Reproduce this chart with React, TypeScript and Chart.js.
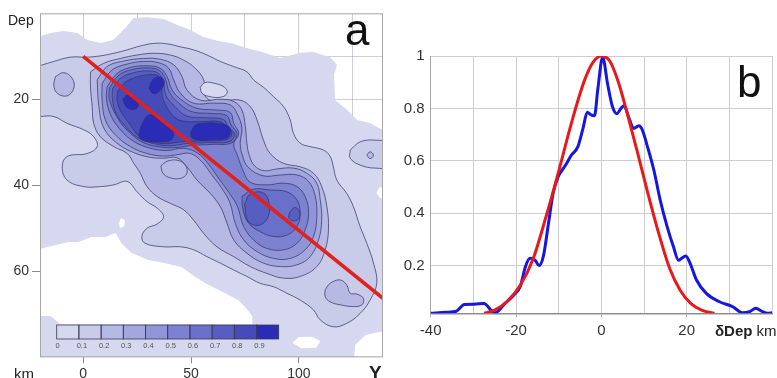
import React, { useEffect, useRef } from 'react';
import { Chart, registerables } from 'chart.js';

Chart.register(...registerables);

type P = [number, number];

const FONT = "Arial, 'Liberation Sans', Helvetica, sans-serif";

// ---------------- Panel b : profile across the fault ----------------
const bXTicks = [-40, -30, -20, -10, 0, 10, 20, 30, 40];
const bXLabels = [-40, -20, 0, 20];
const bYTicks = [0.2, 0.4, 0.6, 0.8, 1];

const profileBlue: P[] = [
  [-40, 0.018], [-36.4, 0.022], [-34, 0.026], [-32.1, 0.052], [-29.8, 0.053], [-27.5, 0.055],
  [-25.6, 0.026], [-24.8, 0.02], [-22.9, 0.05], [-20.5, 0.088], [-19, 0.12], [-17.8, 0.196],
  [-16.7, 0.228], [-15.5, 0.22], [-14.6, 0.2], [-13.6, 0.235], [-12.4, 0.36], [-11.3, 0.476],
  [-10.1, 0.54], [-8.6, 0.578], [-7, 0.622], [-5.5, 0.654], [-4.3, 0.724], [-3.3, 0.785],
  [-2.4, 0.775], [-1.6, 0.772], [-0.85, 0.87], [0.3, 0.995], [1.5, 0.89], [2.6, 0.807],
  [3.6, 0.78], [4.6, 0.8], [5.3, 0.81], [6.5, 0.762], [7.6, 0.724], [8.8, 0.734], [9.6, 0.718],
  [10.7, 0.66], [12.3, 0.565], [13.8, 0.45], [15.4, 0.35], [16.9, 0.272], [18.1, 0.22],
  [18.8, 0.228], [19.8, 0.237], [20.8, 0.209], [22.3, 0.145], [24.6, 0.094], [27.7, 0.062],
  [30.8, 0.043], [33.1, 0.02], [34.7, 0.024], [36.2, 0.037], [37.8, 0.024], [38.9, 0.018], [40, 0.02],
];

const profileRed: P[] = [
  [-27.5, 0.018], [-25, 0.03], [-22, 0.065], [-19, 0.125], [-16, 0.225], [-13, 0.385],
  [-10, 0.56], [-7, 0.745], [-4, 0.905], [-2, 0.975], [0, 1.0], [2, 0.98], [4, 0.9],
  [6, 0.785], [8.5, 0.63], [11, 0.47], [13.5, 0.32], [16, 0.19], [18.5, 0.105],
  [21, 0.055], [23.5, 0.03], [26.5, 0.017],
];

// ---------------- Panel a : density section (Y km vs Dep km) ----------------
const aXTicks = [0, 25, 50, 75, 100, 125];
const aXLabels = [0, 50, 100];
const aYTicks = [10, 20, 30, 40, 50, 60, 70];
const aYLabels = [20, 40, 60];

const faultLine: P[] = [[0, 10], [139, 66.3]];

const colorbarLevels = [0, 0.1, 0.2, 0.3, 0.4, 0.5, 0.6, 0.7, 0.8, 0.9];
const levelColors = ['#d5d8ee', '#c9cce9', '#b6b9e3', '#a3a7dd', '#9095d7', '#7d82d0', '#6a70c9', '#585dc2', '#464bba', '#2a2bb6'];

// data extent (lowest level)
const extentBg: P[] = [
  [-21, 5.5], [-15.1, 4.6], [-9.1, 4.1], [-2.6, 4.6], [2, 6.2], [8, 6.9], [14, 6.2], [19.6, 3.4],
  [23.3, 1.1], [29.8, 0.9], [37.2, 1.3], [43.7, 2.7], [49.7, 3.9], [55.7, 5.5], [62.2, 6.4],
  [69.6, 7.1], [76.1, 8.1], [83, 9], [91.3, 10.4], [100.6, 9.2], [106.6, 9], [114.5, 10.2],
  [117.7, 12], [116.3, 14.3], [116.8, 20.2], [122.4, 22.5], [127, 24.8], [133, 25.5],
  [141, 27.8], [141, 81], [-21, 81],
];
// empty areas inside the extent
const gapLowerLeft: P[] = [
  [-22, 55], [-16.1, 54.3], [-6.8, 53.2], [-2.2, 53.2], [3.8, 52], [10.3, 52], [15, 51.1],
  [17.7, 53.4], [22.4, 55.7], [30.2, 57.4], [38.1, 58.1], [45.5, 59], [52, 61.3], [56.6, 62.7],
  [62.6, 64.3], [67.3, 65.5], [71.9, 66.7], [75.1, 68.3], [78.4, 70.4], [78.4, 72.3],
  [-10.5, 72.3], [-15.1, 70.4], [-22, 70.4],
];
const gapSmall: P[] = [[17.5, 47.6], [19.5, 48.2], [19, 49.6], [17, 50], [16.6, 48.8]];
const gapRightEdge: P[] = [[141, 40], [137, 40.6], [136, 41.8], [137.5, 42.9], [141, 43.2]];
const gapBottom: P[] = [[97, 76.6], [100, 75.3], [106, 75.2], [110, 76.2], [108, 77.8], [101, 77.9]];
const gapCorner: P[] = [[125.3, 81], [126.2, 77.1], [130.9, 74.8], [141, 73.7], [141, 81]];

// level 0.1
const bandL1: P[] = [
  [-24, 12.8], [-13.6, 11.2], [-5.9, 10.2], [1.9, 10.2], [8, 9.9], [14.2, 9.3], [20.4, 8.5],
  [26.5, 7.6], [32.7, 7], [38.9, 7.1], [45.1, 7.8], [51.2, 8.5], [57.4, 9.7], [63.6, 11.2],
  [69.8, 12.4], [75.9, 13.6], [79, 15.5], [83.6, 17.2], [88.3, 19.4], [92.9, 21.7], [96, 24.8],
  [97.5, 27.9], [100.6, 30.2], [105.2, 31], [111.4, 31.8], [114.5, 33.3], [116, 35.7],
  [117.6, 38.8], [122.2, 41.9], [125.3, 45], [128.4, 49.6], [131.5, 53.5], [134.6, 58.1],
  [136.1, 62.8], [133, 66.7], [128.4, 69.8], [122.2, 72.1], [116, 72.9], [109.9, 71.3],
  [106.8, 69], [100.6, 66.7], [94.4, 65.1], [88.3, 63.6], [82.1, 62.8], [75.9, 61.2],
  [69.8, 59.7], [63.6, 58.1], [57.4, 56.6], [51.2, 55], [45.1, 54.3], [37.3, 54.3],
  [28.7, 53.5], [27.2, 51.9], [29.6, 50], [34.3, 49], [37.3, 47.3], [34.3, 45.3], [29.6, 43.8],
  [25, 41.5], [20.4, 39.1], [14.2, 39.9], [8, 40.3], [0.3, 40.3], [-7.4, 38.8], [-9.7, 35.7],
  [-7.4, 33.3], [1.9, 32.6], [6.5, 31], [4.9, 28.7], [0.3, 27.1], [-7.4, 25.6], [-13.6, 24],
  [-24, 23.3],
];
const ringRightL1: P[] = [[123.8, 31.8], [128.4, 29.9], [135.3, 29.5], [142, 30.4], [142, 35.5], [135.3, 36], [128.4, 35.3], [123.8, 33.7]];
const ringInnerL2: P[] = [[131.5, 33], [133, 32.2], [134.6, 33], [133, 33.8]];

// level 0.2
const bandL2: P[] = [
  [3.4, 13.6], [9.6, 11.6], [17.3, 10.5], [25, 9.7], [32.7, 9.3], [40.4, 9.7], [46.6, 10.9],
  [52, 12.8], [55.9, 15.5], [57.4, 19.8], [66.7, 20.2], [72.8, 20.2], [77.5, 21.7], [80.6, 24.8],
  [83.6, 29.5], [86.7, 32.6], [92.9, 34.9], [100.6, 35.7], [106.8, 37.2], [110.6, 40.3],
  [113, 45], [113.7, 50.4], [112.2, 55], [108.3, 58.9], [100.6, 61.2], [92.9, 61.6],
  [85.2, 60.5], [77.5, 58.9], [69.8, 56.6], [62, 54.3], [55.9, 51.2], [51.2, 48.1],
  [46.6, 45.7], [40.4, 44.2], [34.3, 42.6], [29.6, 40.3], [26.5, 37.2], [23.5, 34.9],
  [20.4, 32.6], [14.2, 31], [8, 28.7], [4.9, 25.6], [4.2, 21.7], [3.4, 17.1],
];
const lobeLeftL2: P[] = [[-12.8, 14.7], [-9, 13.8], [-5.1, 15.1], [-4.3, 17.4], [-7.4, 19.2], [-12, 18.6], [-13.6, 16.7]];
const blobSouthEastL2: P[] = [
  [112.2, 64.3], [114.5, 62.8], [119.1, 62], [122.2, 63.2], [123.8, 65.1], [126.9, 65.3],
  [129.9, 66.3], [129.2, 67.8], [125.3, 68.2], [119.1, 67.8], [114.5, 67.1], [112.2, 65.9],
];
const hollowNorth: P[] = [[54.3, 17.2], [56.5, 16.1], [61, 16.3], [65.5, 17.2], [66.8, 18.5], [64, 19.5], [58, 19.3], [55, 18.5]];
const hollowMiddle: P[] = [[36, 35.5], [39, 34.4], [44, 34.2], [47.5, 35.4], [48, 37.3], [45, 38.4], [40, 38.2], [37, 37.2]];

// level 0.3
const coreL3: P[] = [
  [6.5, 15.5], [11.1, 12.4], [18.8, 11.1], [28.1, 10.5], [35.8, 10.7], [42, 12], [45.8, 14.7],
  [48.1, 17.8], [54.3, 20.2], [63.6, 20], [69.8, 20.5], [73.6, 22.5], [75.2, 26.4], [75.9, 30.2],
  [77, 33], [79.5, 35.5], [84, 36.6], [89.8, 36.2], [97.5, 36], [103.7, 37.2], [108.3, 39.5],
  [109.9, 43.4], [110.6, 48.1], [109.1, 52.7], [105.2, 56.6], [99.1, 58.5], [91.4, 58.9],
  [83.6, 58.1], [75.9, 55.8], [69.8, 52.7], [66.7, 48.8], [63.6, 45], [59, 41.9], [52.8, 38.8],
  [48.1, 35.7], [43.5, 33.6], [37.3, 33.7], [31.2, 33.5], [23.5, 32.4], [15.7, 30.2], [9.6, 26.7],
  [7.3, 21.7],
];
// level 0.4 (upper core, corridor and lower core joined)
const bandL4: P[] = [
  [8.8, 16.3], [13.4, 13.2], [20.4, 11.8], [28.1, 11.2], [35, 11.5], [39.7, 12.8], [42, 15.5],
  [45.1, 18.6], [51.2, 20.9], [60.5, 20.9], [68.2, 21.3], [71.3, 23.3], [73.6, 26.7], [72.8, 30.2],
  [73.8, 33], [76.5, 35.8], [83.6, 37.8], [91.4, 37.6], [99.1, 37.6], [104.5, 39.1], [107.6, 42.6],
  [108.3, 47.3], [106.8, 51.9], [102.9, 55], [96, 57], [88.3, 57], [80.6, 55.4], [74.4, 52.7],
  [70.5, 48.8], [68, 44], [64, 40.5], [59.5, 37.5], [55, 34.5], [49.7, 32.6], [43.5, 32.9],
  [37.3, 33.2], [29.6, 32.6], [21.9, 31], [15, 28.3], [10.3, 24.8], [8.8, 20.2],
];
// level 0.5
const bandL5: P[] = [
  [11.1, 17.1], [15.7, 14], [21.9, 12.6], [29.6, 12.2], [35.8, 12.8], [38.9, 14.7], [41.2, 17.8],
  [45.8, 20.2], [52.8, 22.1], [62, 22.5], [68.2, 23.1], [69.8, 25.6], [72.1, 27.9], [69.8, 30.4],
  [71.5, 33], [74.5, 37], [77.5, 39.3], [85.2, 39.9], [92.9, 39.5], [99.1, 40.3], [102.9, 42.6],
  [104.5, 46.5], [102.9, 50.4], [99.1, 53.5], [92.9, 55], [85.2, 54.7], [79, 52.7], [74.4, 49.6],
  [71.6, 45], [68, 42], [63, 38.5], [58, 35], [53, 32.5], [46.6, 31.4], [38.9, 31.9], [31.2, 31.4],
  [23.5, 29.8], [17.3, 27.1], [12.7, 23.6], [10.8, 19.8],
];
// level 0.6
const upperL6: P[] = [
  [12.3, 17.3], [16.5, 14.4], [22.7, 13.1], [30, 12.7], [35.4, 13.3], [38.1, 15.3], [40, 18.4],
  [44.6, 21], [50.5, 22.9], [59.7, 23.3], [66.6, 23.8], [68.6, 26], [71.3, 27.9], [69, 30.1],
  [59.7, 30.5], [50.5, 30.7], [43.5, 31.2], [35.8, 31.1], [28, 30.1], [21.5, 27.7], [16.1, 24.5],
  [12.1, 19.8],
];
const lowerL6: P[] = [
  [73.6, 42.6], [79, 40.9], [86.7, 41.1], [94.4, 41.5], [99.1, 43.4], [100.6, 46.5], [99.1, 49.6],
  [94.4, 51.6], [88.3, 51.9], [82.1, 50.8], [76.7, 48.8], [74.1, 45.7],
];
// level 0.7
const upperL7: P[] = [
  [13.6, 17.6], [17.3, 15.1], [23.5, 13.8], [30.4, 13.4], [35, 14], [37.1, 16], [38.5, 19.2],
  [43.2, 22], [48.1, 23.9], [57.4, 24.3], [65.1, 24.7], [67.2, 26.5], [70.2, 28], [68, 29.8],
  [57.4, 30.1], [48.1, 30.3], [40.4, 30.8], [32.7, 30.3], [25, 28.8], [19.6, 26.3], [15.2, 23.2],
  [13.5, 19.8],
];
const lowerL7a: P[] = [[74.8, 44.4], [77.5, 42], [83.6, 41.8], [86.2, 44.2], [85.5, 47.6], [81.3, 49.3], [76.4, 48.3]];
const lowerL7b: P[] = [[95.5, 46.5], [97.8, 45.2], [100, 45.8], [100.2, 47.5], [98, 48.3], [95.5, 47.7]];
// level 0.8
const upperL8: P[] = [
  [15.9, 18.2], [19.6, 16], [25, 14.8], [30.4, 14.3], [34.6, 14.5], [36.4, 16.4], [36.6, 19.2],
  [39, 22], [42.5, 24.2], [46.5, 25.1], [54.3, 25.2], [63.6, 25.2], [66.4, 26.5], [69, 28],
  [66.2, 29.4], [54.3, 29.7], [45.1, 29.9], [38.9, 30.3], [32.7, 30], [26.5, 28.8], [21.9, 26],
  [17.4, 22.7], [15.8, 20.3],
];
// level 0.9 cores
const coreL9a: P[] = [[30.5, 17.5], [32, 15.6], [34.5, 14.8], [37, 15.2], [37.5, 16.5], [35.5, 18], [32.5, 18.7]];
const coreL9b: P[] = [[18.3, 20], [20.5, 19], [23.5, 19.6], [25.6, 21], [24.5, 22.2], [20.5, 22]];
const coreL9c: P[] = [[25.8, 28], [27.5, 25.5], [30, 23.8], [33, 23.7], [35.5, 25], [39, 26.2], [41.8, 27.5], [41, 29.4], [36, 29.9], [30, 29.8], [26.5, 29.2]];
const coreL9d: P[] = [[49.8, 27.8], [52, 26], [57, 25.5], [63, 25.6], [67.5, 26.3], [68.3, 27.6], [66.5, 29], [60, 29.4], [54, 29.5], [50.5, 29]];

const CONTOUR = 'rgba(50,50,100,0.8)';
const WHITE = '#ffffff';

function toXY(p: P[]) {
  return p.map(([x, y]) => ({ x, y }));
}
function closed(p: P[]) {
  return toXY([...p, p[0]]);
}

function buildPanelA(): any {
  // drawing order: bottom -> top ; [points, fill colour, contour line?, smooth?]
  const layers: [P[], string, boolean, boolean][] = [
    [extentBg, levelColors[0], false, false],
    [gapLowerLeft, WHITE, false, false],
    [gapSmall, WHITE, false, false],
    [gapRightEdge, WHITE, false, false],
    [gapBottom, WHITE, false, false],
    [gapCorner, WHITE, false, false],
    [bandL1, levelColors[1], true, true],
    [ringRightL1, levelColors[1], true, true],
    [ringInnerL2, levelColors[2], true, true],
    [bandL2, levelColors[2], true, true],
    [lobeLeftL2, levelColors[2], true, true],
    [blobSouthEastL2, levelColors[2], true, true],
    [hollowNorth, levelColors[0], true, true],
    [hollowMiddle, levelColors[2], true, true],
    [coreL3, levelColors[3], true, true],
    [bandL4, levelColors[4], true, true],
    [bandL5, levelColors[5], true, true],
    [upperL6, levelColors[6], true, true],
    [lowerL6, levelColors[6], true, true],
    [upperL7, levelColors[7], true, true],
    [lowerL7a, levelColors[7], true, true],
    [lowerL7b, levelColors[7], true, true],
    [upperL8, levelColors[8], true, true],
    [coreL9a, levelColors[9], true, true],
    [coreL9b, levelColors[9], true, true],
    [coreL9c, levelColors[9], true, true],
    [coreL9d, levelColors[9], true, true],
  ];
  const n = layers.length;
  const datasets: any[] = layers.map(([pts, col, line, smooth], i) => ({
    data: closed(pts),
    showLine: true,
    fill: 'shape',
    backgroundColor: col,
    borderColor: line ? CONTOUR : 'rgba(0,0,0,0)',
    borderWidth: line ? 0.9 : 0,
    pointRadius: 0,
    tension: smooth ? 0.4 : 0,
    order: n - i + 1,
  }));
  datasets.push({
    data: toXY(faultLine),
    showLine: true,
    fill: false,
    borderColor: '#e3211c',
    borderWidth: 3.6,
    pointRadius: 0,
    order: 0,
    clip: 0,
  });

  const gridCol = 'rgba(105,105,125,0.33)';
  const overlay = {
    id: 'panelAOverlay',
    afterDraw(chart: any) {
      const { ctx, chartArea: ca } = chart;
      ctx.save();
      ctx.strokeStyle = '#a6a6a6';
      ctx.lineWidth = 1;
      ctx.strokeRect(ca.left + 0.5, ca.top + 0.5, ca.right - ca.left - 1, ca.bottom - ca.top - 1);
      // colour bar legend
      const x0 = 56.7, y0 = 325, w = 22.2, h = 14;
      colorbarLevels.forEach((lv, i) => {
        ctx.fillStyle = levelColors[i];
        ctx.fillRect(x0 + i * w, y0, w, h);
      });
      ctx.strokeStyle = '#3a3a55';
      ctx.lineWidth = 0.8;
      colorbarLevels.forEach((lv, i) => {
        ctx.strokeRect(x0 + i * w, y0, w, h);
      });
      ctx.fillStyle = '#555';
      ctx.font = `7.5px ${FONT}`;
      ctx.textAlign = 'center';
      ctx.textBaseline = 'middle';
      colorbarLevels.forEach((lv, i) => {
        ctx.fillText(String(lv), x0 + i * w + (i === 0 ? 1 : 3), 345.5);
      });
      // axis names & panel letter
      ctx.fillStyle = '#222';
      ctx.textAlign = 'left';
      ctx.textBaseline = 'alphabetic';
      ctx.font = `14px ${FONT}`;
      ctx.fillText('Dep', 8, 25);
      ctx.font = `15px ${FONT}`;
      ctx.fillText('km', 14, 379);
      ctx.font = `bold 19px ${FONT}`;
      ctx.fillText('Y', 369, 379);
      ctx.fillStyle = '#111';
      ctx.font = `44px ${FONT}`;
      ctx.fillText('a', 345, 45);
      ctx.restore();
    },
  };

  return {
    type: 'scatter',
    data: { datasets },
    plugins: [overlay],
    options: {
      responsive: false,
      animation: false,
      events: [],
      layout: { padding: { top: 13.3, right: 7, left: 0, bottom: 0 } },
      plugins: { legend: { display: false }, tooltip: { enabled: false } },
      scales: {
        x: {
          type: 'linear', min: -20, max: 139, z: 1,
          afterBuildTicks: (s: any) => { s.ticks = aXTicks.map((v) => ({ value: v })); },
          afterFit: (s: any) => { s.height = 20.7; },
          ticks: {
            autoSkip: false, maxRotation: 0, padding: 2, color: '#333',
            font: { family: FONT, size: 14 },
            callback: (v: any) => (aXLabels.includes(v) ? String(v) : ''),
          },
          grid: {
            color: gridCol, lineWidth: 1, tickLength: 6,
            tickColor: (c: any) => (c.tick && aXLabels.includes(c.tick.value) ? '#8a8a8a' : 'rgba(0,0,0,0)'),
          },
          border: { display: false },
        },
        y: {
          type: 'linear', reverse: true, min: 0, max: 80, z: 1,
          afterBuildTicks: (s: any) => { s.ticks = aYTicks.map((v) => ({ value: v })); },
          afterFit: (s: any) => { s.width = 40; },
          ticks: {
            autoSkip: false, padding: 3, color: '#333',
            font: { family: FONT, size: 14 },
            callback: (v: any) => (aYLabels.includes(v) ? String(v) : ''),
          },
          grid: {
            color: gridCol, lineWidth: 1, tickLength: 8,
            tickColor: (c: any) => (c.tick && aYLabels.includes(c.tick.value) ? '#8a8a8a' : 'rgba(0,0,0,0)'),
          },
          border: { display: false },
        },
      },
    },
  };
}

function buildPanelB(): any {
  const overlay = {
    id: 'panelBOverlay',
    afterDraw(chart: any) {
      const { ctx } = chart;
      ctx.save();
      ctx.fillStyle = '#111';
      ctx.textAlign = 'left';
      ctx.textBaseline = 'alphabetic';
      ctx.font = `44px ${FONT}`;
      ctx.fillText('b', 347, 97);
      ctx.fillStyle = '#222';
      ctx.font = `bold 15px ${FONT}`;
      ctx.fillText('δDep', 325, 335.5);
      const wd = ctx.measureText('δDep ').width;
      ctx.font = `15px ${FONT}`;
      ctx.fillText('km', 325 + wd, 335.5);
      ctx.restore();
    },
  };
  return {
    type: 'scatter',
    data: {
      datasets: [
        {
          data: toXY(profileRed), showLine: true, borderColor: '#e8191c', borderWidth: 3,
          pointRadius: 0, cubicInterpolationMode: 'monotone', fill: false, order: 0,
        },
        {
          data: toXY(profileBlue), showLine: true, borderColor: '#1616e2', borderWidth: 3,
          pointRadius: 0, cubicInterpolationMode: 'monotone', fill: false, order: 1,
        },
      ],
    },
    plugins: [overlay],
    options: {
      responsive: false,
      animation: false,
      events: [],
      layout: { padding: { top: 56, right: 0, left: 0, bottom: 0 } },
      plugins: { legend: { display: false }, tooltip: { enabled: false } },
      scales: {
        x: {
          type: 'linear', min: -40, max: 40,
          afterBuildTicks: (s: any) => { s.ticks = bXTicks.map((v) => ({ value: v })); },
          afterFit: (s: any) => { s.height = 64.7; },
          ticks: {
            autoSkip: false, maxRotation: 0, padding: 5, color: '#333',
            font: { family: FONT, size: 15 },
            callback: (v: any) => (bXLabels.includes(v) ? String(v) : ''),
          },
          grid: {
            color: '#cdcdcd', lineWidth: 1, tickLength: 4,
            tickColor: (c: any) => (c.tick && bXLabels.includes(c.tick.value) ? '#aaa' : 'rgba(0,0,0,0)'),
          },
          border: { color: '#8e8e8e', width: 1.5 },
        },
        y: {
          type: 'linear', min: 0.018, max: 1,
          afterBuildTicks: (s: any) => { s.ticks = bYTicks.map((v) => ({ value: v })); },
          afterFit: (s: any) => { s.width = 40.7; },
          ticks: {
            autoSkip: false, padding: 6, color: '#333',
            font: { family: FONT, size: 15 },
            callback: (v: any) => String(v),
          },
          grid: { color: '#cdcdcd', lineWidth: 1, drawTicks: false },
          border: { color: '#a8a8a8', width: 1 },
        },
      },
    },
  };
}

export default function App() {
  const refA = useRef<HTMLCanvasElement>(null);
  const refB = useRef<HTMLCanvasElement>(null);
  useEffect(() => {
    const a = new Chart(refA.current as HTMLCanvasElement, buildPanelA());
    const b = new Chart(refB.current as HTMLCanvasElement, buildPanelB());
    return () => {
      a.destroy();
      b.destroy();
    };
  }, []);
  return (
    <div style={{ position: 'absolute', left: 0, top: 0, width: 777, height: 378, background: '#fff', overflow: 'hidden' }}>
      <canvas ref={refA} width={390} height={378} style={{ position: 'absolute', left: 0, top: 0, width: 390, height: 378 }} />
      <canvas ref={refB} width={387} height={378} style={{ position: 'absolute', left: 390, top: 0, width: 387, height: 378 }} />
    </div>
  );
}
